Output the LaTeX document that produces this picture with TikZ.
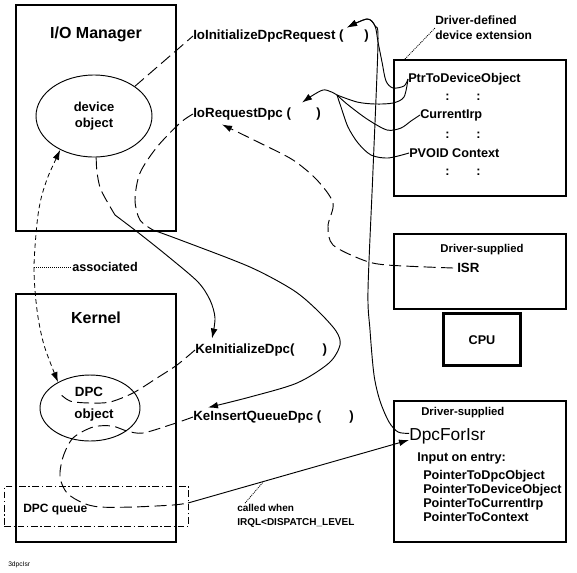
\documentclass[tikz,border=0pt]{standalone}
\usepackage{fontspec}
\setmainfont{Liberation Sans}
\usetikzlibrary{shapes.geometric, arrows.meta}

\begin{document}
\begin{tikzpicture}[x=0.75pt, y=-0.75pt,
    box/.style={draw, line width=1.2pt, inner sep=0pt, anchor=north west},
    heading/.style={font=\bfseries\fontsize{12}{14}\selectfont, inner sep=0pt},
    fn/.style={font=\bfseries\fontsize{10}{12}\selectfont, inner sep=0pt, anchor=west},
    field/.style={font=\bfseries\fontsize{9.5}{10.5}\selectfont, inner sep=0pt, anchor=west, align=left},
    supp/.style={font=\bfseries\fontsize{8.5}{10}\selectfont, inner sep=0pt, anchor=west},
    note/.style={font=\bfseries\fontsize{7.5}{10.5}\selectfont, inner sep=0pt, anchor=west, align=left},
    curve/.style={line width=0.7pt},
    call/.style={curve, -{Latex[length=7.5pt, width=5pt]}},
    inside/.style={curve, dash pattern=on 9pt off 4pt},
    hint/.style={line width=0.6pt, dash pattern=on 0.75pt off 0.75pt}]

\useasboundingbox (0,0) rectangle (577,572);

\node[box, minimum width=120pt, minimum height=169.5pt] (iobox) at (15,4) {};
\node[box, minimum width=120pt, minimum height=186pt] (kernelbox) at (15,293) {};
\node[box, minimum width=129pt, minimum height=102pt] (extbox) at (393,59) {};
\node[box, minimum width=129pt, minimum height=56.25pt] (isrbox) at (393,233) {};
\node[box, line width=2.6pt, minimum width=57.4pt, minimum height=38.65pt] (cpubox) at (442,312) {};
\node[box, minimum width=129pt, minimum height=105.75pt] (dpcbox) at (393,400) {};
\node[box, line width=0.6pt, dash pattern=on 5pt off 2pt on 1pt off 2pt,
      minimum width=138pt, minimum height=30pt] (queuebox) at (4,486) {};

\node[heading] (iomgr) at (96,34) {I/O Manager};
\node[heading] (kernel) at (96,318) {Kernel};
\node[draw, ellipse, curve, minimum width=87pt, minimum height=61.5pt, align=center,
      font=\bfseries\fontsize{9.75}{12}\selectfont] (devobj) at (94,116) {device\\object};
\node[draw, ellipse, curve, minimum width=75pt, minimum height=49.5pt] (dpcobj) at (90,408) {};
\node[heading, font=\bfseries\fontsize{10}{12}\selectfont] (dpclbl) at (89,392) {DPC};
\node[heading, font=\bfseries\fontsize{10}{12}\selectfont] (objlbl) at (94,415) {object};

\node[fn] (ioinit) at (193,36) {IoInitializeDpcRequest (\hspace{15.5pt})};
\node[fn] (ioreq) at (193,114) {IoRequestDpc (\hspace{19pt})};
\node[fn] (keinit) at (195,350) {KeInitializeDpc(\hspace{21pt})};
\node[fn] (keinsert) at (193,417) {KeInsertQueueDpc (\hspace{21pt})};

\node[field, font=\bfseries\fontsize{9}{11.25}\selectfont] (extlbl) at (435,28) {Driver-defined\\device extension};
\node[field] (ptrdev) at (408,79) {PtrToDeviceObject};
\node[field, anchor=center] (dots1) at (463,97) {:\hspace{20pt}:};
\node[field] (curirp) at (420,115) {CurrentIrp};
\node[field, anchor=center] (dots2) at (463,135) {:\hspace{20pt}:};
\node[field] (pvoid) at (409,153) {PVOID Context};
\node[field, anchor=center] (dots3) at (463,172) {:\hspace{20pt}:};

\node[supp, anchor=center] (isrsup) at (482,250) {Driver-supplied};
\node[fn] (isr) at (457,268) {ISR};
\node[heading, font=\bfseries\fontsize{9.5}{11}\selectfont] (cpu) at (482,340) {CPU};

\node[supp] (dpcsup) at (421,413) {Driver-supplied};
\node[inner sep=0pt, anchor=west, font=\fontsize{13}{15}\selectfont] (dpcforisr) at (409,436) {DpcForIsr};
\node[field] (input) at (417,458) {Input on entry:};
\node[field, anchor=north west] (params) at (423,470)
    {PointerToDpcObject\\PointerToDeviceObject\\PointerToCurrentIrp\\PointerToContext};

\node[field, font=\bfseries\fontsize{9}{10.5}\selectfont] (dpcq) at (23,510) {DPC queue};
\node[field] (assoc) at (72,267) {associated};
\node[note] (called) at (237,516) {called when\\IRQL<DISPATCH\_LEVEL};
\node[inner sep=0pt, anchor=west, font=\fontsize{5}{6}\selectfont] (fname) at (8,565) {3dpcIsr};

\coordinate (hub) at (337,95);
\coordinate (assocpt) at (34,267);
\coordinate (iojoin) at (153,230);
\coordinate (devjoin) at (115,215);
\coordinate (queuejoin) at (188,503);
\coordinate (calledpt) at (264,481);
\coordinate (dpchook) at (58,392);

\draw[inside] (devobj.36) -- (ioinit.west);
\draw[inside] plot[smooth] coordinates {(ioreq.west) (180,123) (157,147) (140,173) (135,200) (140,220) (iojoin)};
\draw[call] plot[smooth] coordinates {(iojoin) (183,241) (250,267) (293,290) (317,310) (336,331)
    (340,345) (329,363) (297,383) (250,397) ([shift={(15,-3)}]keinsert.north west)};
\draw[inside] plot[smooth] coordinates {(devobj.-87) (97,172) (101,190) (devjoin)};
\draw[call] plot[smooth] coordinates {(devjoin) (140,234) (170,258) (198,282) (210,300) (215,318)
    ([shift={(17,-5)}]keinit.north west)};
\draw[inside, -{Latex[length=7.5pt, width=5pt]}] plot[smooth] coordinates {([xshift=-3pt]isr.west)
    (387,265) (363,260) (333,245) (328,226) (333,203) (317,180) (293,160) (260,143)
    ([shift={(29,4)}]ioreq.south west)};

\draw[call] plot[smooth] coordinates {(hub) (323,90) ([shift={(-19,-5)}]ioreq.north east)};
\draw[curve] plot[smooth] coordinates {(hub) (357,102) (375,104) (393,103) (404,97) (ptrdev.west)};
\draw[curve] plot[smooth] coordinates {(hub) (347,104) (367,119) (387,130) (401,128) (411,121) (curirp.west)};
\draw[curve] plot[smooth] coordinates {(hub) (341,107) (348,127) (358,143) (371,155) (388,158) (pvoid.west)};
\draw[call] plot[smooth] coordinates {(ptrdev.west) (404,86) (393,88) (386,81) (382,62) (378,42)
    (375,26) (367,19) ([shift={(-22,-2)}]ioinit.north east)};
\draw[call] plot[smooth] coordinates {([yshift=2pt]dpcforisr.west) (398,432) (389,422) (380,401)
    (374,375) (370,330) (368,290) (373,170) (378,42) (375,26) (367,19) ([shift={(-22,-2)}]ioinit.north east)};

\draw[inside] plot[smooth] coordinates {(keinit.west) (177,365) (157,378) (133,393) (110,402) (90,403) (70,401) (dpchook)};
\draw[inside] plot[smooth] coordinates {(keinsert.west) (173,424) (143,433) (127,431) (112,426) (93,427)
    (73,438) (63,457) (60,477) (67,493) (83,503) (100,507) (133,507) (173,505) (queuejoin)};
\draw[call] (queuejoin) -- ([yshift=-3pt]dpcforisr.west);

\draw[line width=0.6pt, dash pattern=on 3.5pt off 2.5pt, {Latex[length=7.5pt, width=5pt]}-{Latex[length=7.5pt, width=5pt]}]
    plot[smooth] coordinates {(devobj.225) (45,185) (38,215) (assocpt) (37,310) (44,345) (dpcobj.141)};
\draw[hint] (assocpt) -- (assoc.west);
\draw[hint] ([xshift=9pt]extbox.north west) -- (extlbl.west);
\draw[hint] ([shift={(8,-1)}]called.north west) -- (calledpt);
\end{tikzpicture}
\end{document}
